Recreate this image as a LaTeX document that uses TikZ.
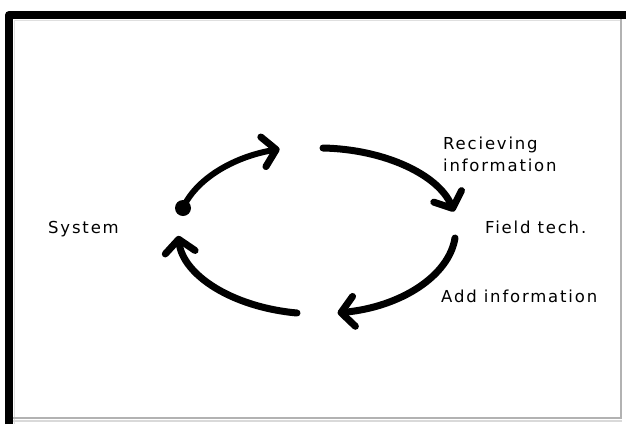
\documentclass[tikz,border=0pt]{standalone}
\usepackage{fontspec}
\setmainfont{DejaVu Sans}[LetterSpace=11]
\usetikzlibrary{arrows.meta}

\begin{document}
\begin{tikzpicture}[x=1pt,y=-1pt,
  txt/.style={inner sep=0pt,font=\fontsize{16.5}{22}\selectfont,text=black},
  flow/.style={line width=7pt,line cap=round,
    -{Straight Barb[length=13pt,width=30pt,line width=7pt,round]}},
  loop/.style={x radius=140,y radius=84}]
  \useasboundingbox (0,0) rectangle (626,424);
  \fill[white] (0,0) rectangle (626,424);

  % window frame: heavy edge top and left, light edge right and bottom
  \draw[gray!25,line width=1pt] (14.5,424) -- (14.5,20.5) -- (620,20.5);
  \draw[gray!60,line width=1.5pt] (621,19) -- (621,418) -- (13,418);
  \draw[gray!30,line width=2pt] (13,420.5) -- (622,420.5);
  \draw[black,line width=8pt,line join=round] (9,424) -- (9,15) -- (626,15);

  % cycle of arrows on an ellipse centred at (318,230)
  \coordinate (tlA) at (183,208);
  \coordinate (trA) at (323,148);
  \coordinate (brA) at (455,238);
  \coordinate (blA) at (297,313);

  \fill (tlA) circle[radius=8];
  \draw[flow,line width=6pt] (tlA) arc[start angle=195,end angle=254,loop];
  \draw[flow] (trA) arc[start angle=272,end angle=346,loop];
  \draw[flow] (brA) arc[start angle=5.5,end angle=81,loop];
  \draw[flow] (blA) arc[start angle=98.6,end angle=176,loop];

  % labels
  \node[txt,anchor=base west] (sys) at (48,233) {System};
  \node[txt,anchor=north west,align=left] (recv) at (443,137) {Recieving\\information};
  \node[txt,anchor=base west] (tech) at (485,233) {Field tech.};
  \node[txt,anchor=base west] (add) at (441,302) {Add information};
\end{tikzpicture}
\end{document}
